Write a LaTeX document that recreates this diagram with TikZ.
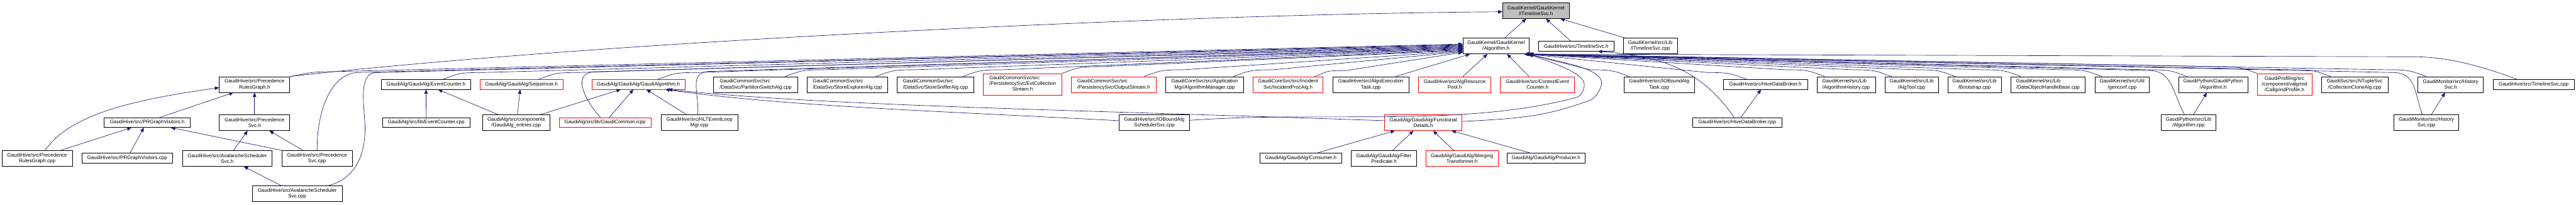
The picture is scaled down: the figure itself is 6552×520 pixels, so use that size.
\documentclass[tikz,border=0pt]{standalone}
\usepackage{fontspec}
\setmainfont{Liberation Sans}
\usetikzlibrary{arrows.meta,calc}
\definecolor{edgec}{HTML}{191970}
\definecolor{nodegray}{HTML}{BFBFBF}
\tikzset{
  box/.style={draw=black,line width=1.1pt,inner sep=0pt,align=center,fill=white,
    font=\fontsize{12.8}{14.5}\selectfont,text=black},
  redbox/.style={draw=red},
  graybox/.style={fill=nodegray},
  lbox/.style={align=left},
  edge/.style={draw=edgec,line width=1.05pt,-{Triangle[length=11pt,width=9pt]}},
}
% node: [style] x1 y1 x2 y2 name text   (pixel coordinates, y downwards)
\newcommand\nd[7][]{\node[box,#1,minimum width={(#4-#2)*1pt},minimum height={(#5-#3)*1pt}] (#6) at ({(#2+#4)/2},{-(#3+#5)/2}) {#7};}
% straight edge: src, dx at src top, tgt, dx at tgt bottom
\newcommand\se[4]{\draw[edge] ($(#1.north)+(#2,0)$) -- ($(#3.south)+(#4,0)$);}
% long edge to Algorithm.h, west side
\newcommand\LA[4]{\draw[edge] let \p1=(#1), \p2=($(alg.west)+(0,#4)$), \p3=($(\p1)+(#2)$) in
  (\p1) .. controls ($(\p1)+(#3)$) and ($(\p3)+(-60,0)$) .. (\p3)
  .. controls ($(\p3)!0.3!(\p2)$) and ($(\p2)!0.4!(\p3)$) .. (\p2);}
% long edge to Algorithm.h, bottom right corner
\newcommand\RA[4]{\draw[edge] let \p1=(#1), \p2=($(alg.south east)+(#4,0)$), \p3=($(\p1)+(#2)$) in
  (\p1) .. controls ($(\p1)+(#3)$) and ($(\p3)+(60,0)$) .. (\p3)
  .. controls ($(\p3)!0.3!(\p2)$) and ($(\p2)!0.4!(\p3)$) .. (\p2);}
\begin{document}
\begin{tikzpicture}[x=1pt,y=1pt]
\useasboundingbox (0,0) rectangle (6552,-520);
% row 0/1
\nd[graybox]{3822}{7}{3991}{47}{itl}{GaudiKernel/GaudiKernel\\/ITimelineSvc.h}
\nd{3721}{97}{3889}{137}{alg}{GaudiKernel/GaudiKernel\\/Algorithm.h}
\nd{3913}{105}{4105}{130}{tlh}{GaudiHive/src/TimelineSvc.h}
\nd{4129}{97}{4266}{137}{itlcpp}{GaudiKernel/src/Lib\\/ITimelineSvc.cpp}
% row 2
\nd{558}{195}{737}{235}{prgh}{GaudiHive/src/Precedence\\RulesGraph.h}
\nd{970}{202}{1197}{227}{ech}{GaudiAlg/GaudiAlg/EventCounter.h}
\nd[redbox]{1221}{202}{1432}{227}{seq}{GaudiAlg/GaudiAlg/Sequencer.h}
\nd[redbox]{1505}{202}{1742}{227}{gah}{GaudiAlg/GaudiAlg/GaudiAlgorithm.h}
\nd[lbox]{1815}{195}{2029}{235}{psa}{GaudiCommonSvc/src\\/DataSvc/PartitionSwitchAlg.cpp}
\nd[lbox]{2053}{195}{2258}{235}{sea}{GaudiCommonSvc/src\\/DataSvc/StoreExplorerAlg.cpp}
\nd[lbox]{2282}{195}{2477}{235}{ssa}{GaudiCommonSvc/src\\/DataSvc/StoreSnifferAlg.cpp}
\nd[redbox]{2501}{187}{2701}{242}{ecs}{\begin{tabular}{@{}l@{}}GaudiCommonSvc/src\\/PersistencySvc/EvtCollection\\\multicolumn{1}{@{}c@{}}{Stream.h}\end{tabular}}
\nd[redbox,lbox]{2725}{195}{2940}{235}{osh}{GaudiCommonSvc/src\\/PersistencySvc/OutputStream.h}
\nd{2965}{195}{3163}{235}{amc}{GaudiCoreSvc/src/Application\\Mgr/AlgorithmManager.cpp}
\nd[redbox]{3187}{195}{3365}{235}{ipa}{GaudiCoreSvc/src/Incident\\Svc/IncidentProcAlg.h}
\nd{3390}{195}{3583}{235}{aet}{GaudiHive/src/AlgoExecution\\Task.cpp}
\nd[redbox]{3608}{195}{3792}{235}{arp}{GaudiHive/src/AlgResource\\Pool.h}
\nd[redbox]{3816}{195}{4005}{235}{cec}{GaudiHive/src/ContextEvent\\Counter.h}
\nd{4130}{195}{4310}{235}{iobt}{GaudiHive/src/IOBoundAlg\\Task.cpp}
\nd{4383}{202}{4597}{227}{hdbh}{GaudiHive/src/HiveDataBroker.h}
\nd[lbox]{4621}{195}{4770}{235}{ahc}{GaudiKernel/src/Lib\\/AlgorithmHistory.cpp}
\nd{4794}{195}{4930}{235}{atc}{GaudiKernel/src/Lib\\/AlgTool.cpp}
\nd{4954}{195}{5090}{235}{bsc}{GaudiKernel/src/Lib\\/Bootstrap.cpp}
\nd[lbox]{5115}{195}{5303}{235}{dohb}{GaudiKernel/src/Lib\\/DataObjectHandleBase.cpp}
\nd{5328}{195}{5467}{235}{gcc}{GaudiKernel/src/Util\\/genconf.cpp}
\nd{5541}{195}{5717}{235}{gpah}{GaudiPython/GaudiPython\\/Algorithm.h}
\nd[redbox]{5741}{187}{5880}{242}{cgp}{GaudiProfiling/src\\/component/valgrind\\/CallgrindProfile.h}
\nd{5904}{195}{6074}{235}{cca}{GaudiSvc/src/NTupleSvc\\/CollectionCloneAlg.cpp}
\nd{6150}{195}{6316}{235}{hsh}{GaudiMonitor/src/History\\Svc.h}
\nd{6341}{202}{6547}{227}{tlc}{GaudiHive/src/TimelineSvc.cpp}
% row 3
\nd{265}{299}{484}{324}{prgv}{GaudiHive/src/PRGraphVisitors.h}
\nd{558}{292}{737}{332}{psh}{GaudiHive/src/Precedence\\Svc.h}
\nd{973}{299}{1195}{324}{ecc}{GaudiAlg/src/lib/EventCounter.cpp}
\nd{1227}{292}{1399}{332}{gae}{GaudiAlg/src/components\\/GaudiAlg\_entries.cpp}
\nd[redbox]{1422}{299}{1656}{324}{gci}{GaudiAlg/src/lib/GaudiCommon.icpp}
\nd{1681}{292}{1877}{332}{hlt}{GaudiHive/src/HLTEventLoop\\Mgr.cpp}
\nd{2847}{292}{3025}{332}{iobs}{GaudiHive/src/IOBoundAlg\\SchedulerSvc.cpp}
\nd[redbox]{3522}{292}{3718}{332}{fdh}{GaudiAlg/GaudiAlg/Functional\\Details.h}
\nd{4305}{299}{4532}{324}{hdbc}{GaudiHive/src/HiveDataBroker.cpp}
\nd{5497}{292}{5636}{332}{gpac}{GaudiPython/src/Lib\\/Algorithm.cpp}
\nd{6089}{292}{6254}{332}{hsc}{GaudiMonitor/src/History\\Svc.cpp}
% row 4
\nd{5}{383}{184}{423}{prgc}{GaudiHive/src/Precedence\\RulesGraph.cpp}
\nd{208}{390}{439}{415}{prgvc}{GaudiHive/src/PRGraphVisitors.cpp}
\nd{464}{383}{692}{423}{ash}{GaudiHive/src/AvalancheScheduler\\Svc.h}
\nd{717}{383}{896}{423}{psc}{GaudiHive/src/Precedence\\Svc.cpp}
\nd{3205}{389}{3412}{415}{con}{GaudiAlg/GaudiAlg/Consumer.h}
\nd{3437}{383}{3603}{423}{fp}{GaudiAlg/GaudiAlg/Filter\\Predicate.h}
\nd[redbox]{3627}{383}{3810}{423}{mt}{GaudiAlg/GaudiAlg/Merging\\Transformer.h}
\nd{3833}{389}{4032}{415}{pro}{GaudiAlg/GaudiAlg/Producer.h}
% row 5
\nd{642}{473}{870}{513}{asc}{GaudiHive/src/AvalancheScheduler\\Svc.cpp}

% ---- straight edges
\se{alg}{22}{itl}{-24.5}
\se{tlh}{-14}{itl}{25.5}
\draw[edge] ($(itlcpp.north)+(-64.5,0)$) -- ($(itl.south)+(62,0)$);
\se{prgv}{32.5}{prgh}{-53.5}
\se{psh}{0}{prgh}{0}
\se{prgc}{60}{prgv}{-40}
\se{prgvc}{7}{prgv}{-8.5}
\draw[edge] (psc.north west) -- ($(prgv.south)+(60,0)$);
\se{ash}{16}{psh}{-17.5}
\se{psc}{-35.5}{psh}{37.5}
\se{asc}{-40}{ash}{42}
\se{ecc}{0}{ech}{0}
\se{gae}{-46}{ech}{30.5}
\se{gae}{3}{seq}{-3.5}
\se{gae}{62}{gah}{-44.5}
\se{gci}{11}{gah}{-12.5}
\se{hlt}{-33}{gah}{20.5}
\se{con}{43.5}{fdh}{-72}
\se{fp}{22}{fdh}{-25}
\se{mt}{-21.5}{fdh}{25}
\se{pro}{-42.5}{fdh}{72}
\se{aet}{63.5}{alg}{-66}
\se{arp}{21}{alg}{-22}
\se{cec}{-21.5}{alg}{28}
\se{hdbc}{9.5}{hdbh}{-11}
\se{gpac}{12.5}{gpah}{-16}
\se{hsc}{12.5}{hsh}{-14}

% ---- curved edges, left part
\draw[edge] ($(prgc.north)+(20,0)$) .. controls +(55:110pt) and +(188:230pt) .. ($(prgh.west)+(0,-8)$);
\draw[edge] (prgh.north east) .. controls +(800,90) and +(-800,-5) .. ($(itl.west)+(0,-3)$);
\draw[edge] ($(iobs.west)+(0,5)$) .. controls +(177:500pt) and +(-8:300pt) .. ($(gah.south)+(68.5,0)$);
\draw[edge] ($(fdh.west)+(0,5)$) .. controls +(178:800pt) and +(-6:400pt) .. ($(gah.south)+(75.5,0)$);

\LA{prgh.north east}{100,12}{40,5}{5}
\LA{psc.north}{105,198}{0,120}{3.5}
\draw[edge] let \p1=($(asc.north)+(78,0)$), \p2=($(alg.west)+(0,2)$),
  \p4=($(psc.north east)+(32,55)$), \p3=($(psc.north east)+(61,198)$) in
  (\p1) .. controls +(80,20) and +(0,-50) .. (\p4)
  .. controls +(0,50) and +(-50,0) .. (\p3)
  .. controls ($(\p3)!0.3!(\p2)$) and ($(\p2)!0.4!(\p3)$) .. (\p2);
\LA{$(ech.north)+(43.5,0)$}{100,17}{40,14}{0.5}
\LA{$(seq.north)+(43.5,0)$}{100,17}{40,14}{-1}
\LA{$(gci.north)+(-12,0)$}{-12,116}{-45,50}{-2.5}
\LA{$(gah.north)+(50,0)$}{100,17}{40,14}{-4}
\LA{$(hlt.north)+(-4,0)$}{34,110}{3,60}{-5.5}
\LA{$(psa.north)+(75,0)$}{100,17}{40,14}{-7}
\LA{$(sea.north)+(72.5,0)$}{100,17}{40,14}{-8.5}
\LA{$(ssa.north)+(70,0)$}{100,17}{40,14}{-10}
\LA{ecs.north east}{100,17}{40,14}{-11.5}
\LA{$(osh.north)+(77.5,0)$}{100,17}{40,14}{-13}
\LA{$(amc.north)+(73,0)$}{100,17}{40,14}{-14.5}
\LA{$(ipa.north)+(68,0)$}{80,15}{35,12}{-16}

% ---- curved edges, right part
\draw[edge] ($(iobs.east)+(0,6)$) .. controls +(4:350pt) and +(195:300pt) .. ($(cec.south east)+(5,-12)$)
  .. controls +(15:10pt) and +(-90:15pt) .. ($(cec.east)+(24,0)$)
  .. controls +(90:30pt) and +(-20:60pt) .. ($(alg.south east)+(-2,0)$);
\draw[edge] ($(fdh.east)+(0,3)$) .. controls +(3:150pt) and +(200:120pt) .. ($(cec.south east)+(37,-20)$)
  .. controls +(20:15pt) and +(-100:20pt) .. ($(cec.east)+(68,2)$)
  .. controls +(85:40pt) and +(-15:80pt) .. (alg.south east);
\draw[edge] ($(hdbc.north)+(-8,0)$) .. controls +(-90,130) and +(150,-12) .. ($(tlh.south)+(55,0)$);
\RA{$(iobt.north)+(-76,0)$}{-100,17}{-40,14}{-4}
\RA{$(hdbh.north)+(-48,0)$}{-100,17}{-40,14}{-5}
\RA{$(ahc.north)+(-54.5,0)$}{-100,17}{-40,14}{-7}
\RA{$(atc.north)+(-51,0)$}{-100,17}{-40,14}{-8}
\RA{$(bsc.north)+(-49,0)$}{-100,17}{-40,14}{-9}
\RA{$(dohb.north)+(-69,0)$}{-100,17}{-40,14}{-10}
\RA{$(gcc.north)+(-51.5,0)$}{-100,17}{-40,14}{-11}
\RA{$(gpac.north)+(-10.5,0)$}{-90,112}{-30,55}{-12}
\RA{$(gpah.north)+(-66,0)$}{-100,17}{-40,14}{-3}
\RA{cgp.north west}{-100,17}{-40,14}{-2}
\RA{$(cca.north)+(-61,0)$}{-100,17}{-40,14}{-13}
\RA{$(hsc.north)+(-10.5,0)$}{-75,107}{-20,55}{-14}
\RA{$(hsh.north)+(-62,0)$}{-100,17}{-40,14}{-1}
\RA{$(tlc.north)+(-43,0)$}{-260,57}{-120,45}{0}
\end{tikzpicture}
\end{document}
